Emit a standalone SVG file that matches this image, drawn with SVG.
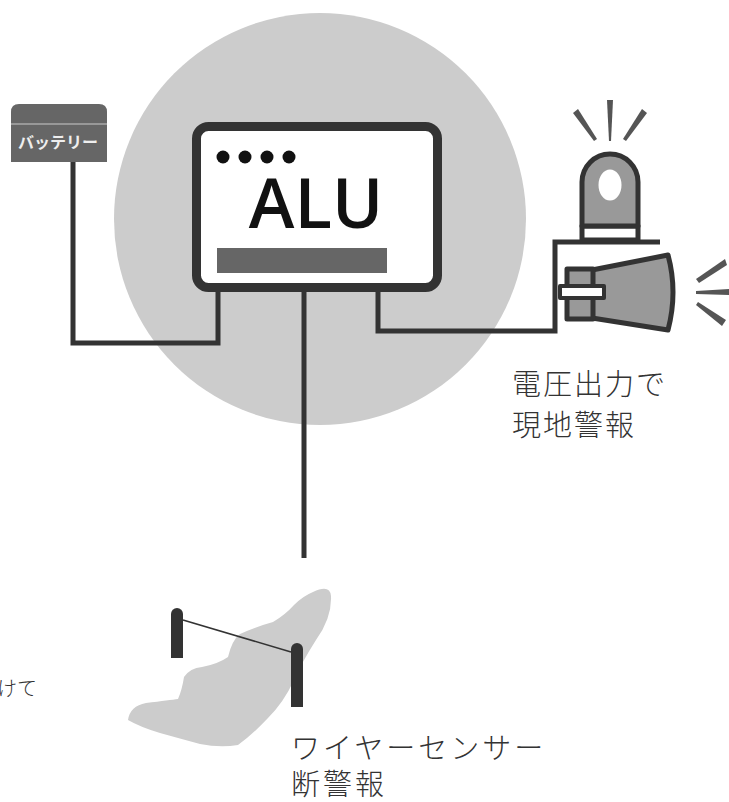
<svg xmlns="http://www.w3.org/2000/svg" width="729" height="802" viewBox="0 0 729 802">
  <style>
    .wire { fill: none; stroke: #333; stroke-width: 5; stroke-linejoin: miter; }
    .ink { stroke: #333; stroke-linejoin: round; }
    .ray { fill: #555; }
    .label { font-family: "Noto Sans CJK JP", "Noto Sans", sans-serif; fill: #333; font-weight: 300; }
  </style>

  <!-- background zone around the controller -->
  <circle id="zone" cx="320" cy="219" r="206" fill="#ccc"/>

  <!-- connectors -->
  <g id="connectors" class="wire">
    <polyline points="73,162 73,343 218,343 218,290"/>
    <polyline points="304,290 304,558"/>
    <polyline points="378,290 378,331 555,331 555,242 660,242"/>
  </g>

  <!-- battery -->
  <g id="battery">
    <path d="M11,162 V112 Q11,104 19,104 H99 Q107,104 107,112 V162 Z" fill="#666"/>
    <line x1="11" y1="124" x2="107" y2="124" stroke="#aaa" stroke-width="1.5"/>
    <text x="58" y="148" text-anchor="middle" font-family="'Noto Sans CJK JP', sans-serif" font-weight="700" font-size="16" fill="#eee">バッテリー</text>
  </g>

  <!-- ALU controller -->
  <g id="alu">
    <rect x="196.5" y="126.5" width="241" height="161" rx="12" fill="#fff" stroke="#333" stroke-width="9"/>
    <circle cx="223" cy="157" r="6.5" fill="#111"/>
    <circle cx="245" cy="157" r="6.5" fill="#111"/>
    <circle cx="267" cy="157" r="6.5" fill="#111"/>
    <circle cx="289" cy="157" r="6.5" fill="#111"/>
    <text x="316" y="228" text-anchor="middle" font-family="'Open Sans', 'Noto Sans', sans-serif" font-weight="600" font-size="69" fill="#111">ALU</text>
    <rect x="217" y="248" width="170" height="25" fill="#666"/>
  </g>

  <!-- rotating light and siren -->
  <g id="alarm">
    <polygon class="ray" points="573,113 578,109 597,139 594,141"/>
    <polygon class="ray" points="607,100 613,100 611,141 609,141"/>
    <polygon class="ray" points="642,109 647,113 626,141 623,139"/>
    <rect x="582" y="226" width="56" height="14" fill="#fff" class="ink" stroke-width="5"/>
    <path d="M582,226 V182 A28,28 0 0 1 638,182 V226 Z" fill="#999" class="ink" stroke-width="5"/>
    <ellipse cx="610" cy="185" rx="11.5" ry="15.5" fill="#fff"/>
    <path d="M592,270 L668,255 Q678,292 668,330 L592,318 Z" fill="#999" class="ink" stroke-width="5"/>
    <rect x="567" y="269" width="26" height="50" fill="#999" class="ink" stroke-width="5"/>
    <rect x="560" y="286" width="44" height="12" fill="#fff" class="ink" stroke-width="4"/>
    <polygon class="ray" points="696,279 699,283 727,265 725,259"/>
    <polygon class="ray" points="696,291 696,294 729,295 729,289"/>
    <polygon class="ray" points="696,305 698,302 726,320 722,326"/>
  </g>

  <!-- wire sensor -->
  <g id="sensor">
    <path d="M313,592 Q330,584 331,596 Q332,618 316,640 Q302,662 294,680 Q284,702 268,718 Q252,735 238,745 Q220,748 200,744 Q178,738 160,733 Q140,727 128,720 Q130,706 146,703 Q170,700 178,699 Q182,690 184,677 Q190,668 202,667 Q218,664 228,657 Q232,640 240,634 Q255,627 273,622 Q285,615 294,605 Q303,596 313,592 Z" fill="#ccc"/>
    <line x1="183" y1="620" x2="291" y2="652" stroke="#333" stroke-width="1.6"/>
    <path d="M171,658 V614 A6,6 0 0 1 183,614 V658 Z" fill="#333"/>
    <path d="M291,707 V649 A6,6 0 0 1 303,649 V707 Z" fill="#333"/>
  </g>

  <!-- captions -->
  <g id="captions" class="label" font-size="29">
    <text x="512" y="395" letter-spacing="2">電圧出力で</text>
    <text x="512" y="436" letter-spacing="2">現地警報</text>
    <text x="291" y="759" letter-spacing="3">ワイヤーセンサー</text>
    <text x="291" y="795" letter-spacing="3">断警報</text>
    <text x="-3" y="696" font-size="20">けて</text>
  </g>
</svg>
